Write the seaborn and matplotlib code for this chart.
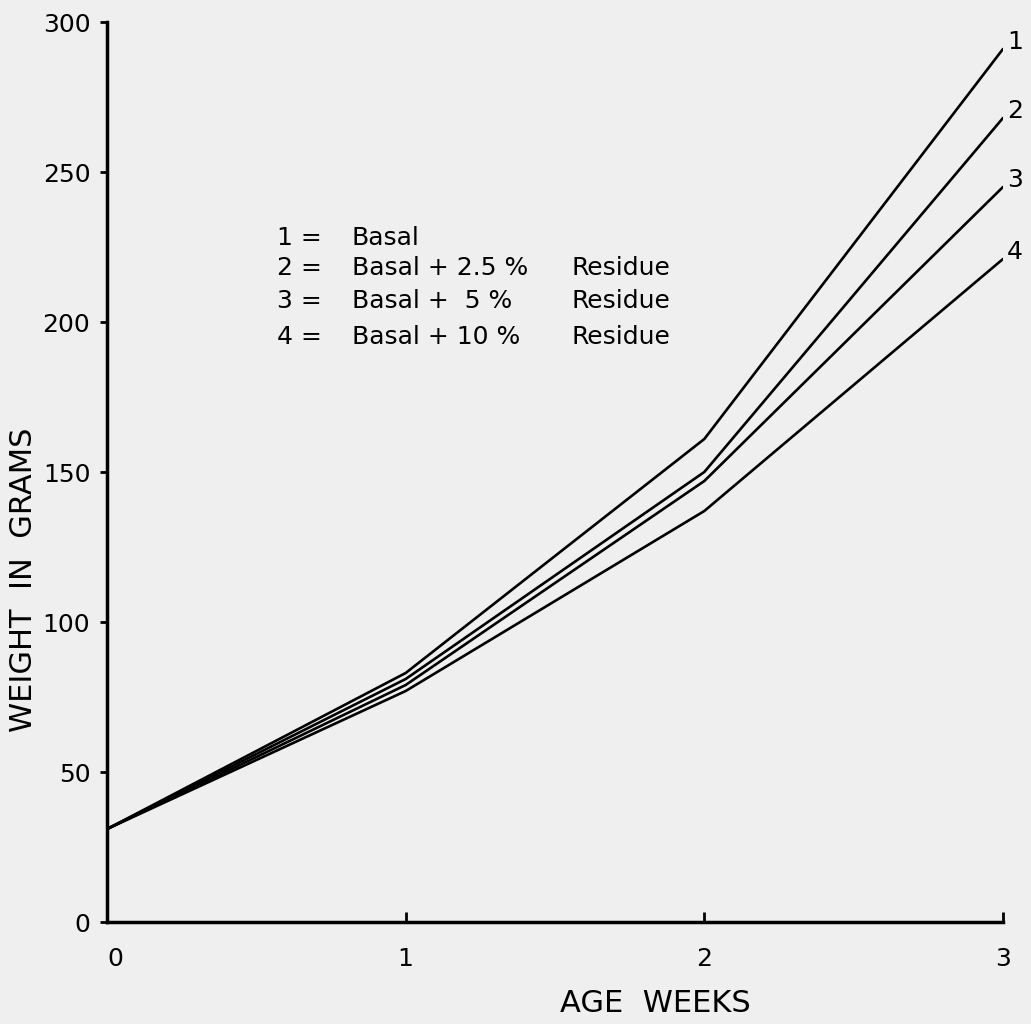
import pandas as pd
import matplotlib
matplotlib.use("Agg")
import matplotlib.pyplot as plt
import seaborn as sns

# values
weeks = [0, 1, 2, 3]
basal = [31, 83, 161, 291]
basal_25 = [31, 81, 150, 268]
basal_5 = [31, 79, 147, 245]
basal_10 = [31, 77, 137, 221]
line_ids = ["1", "2", "3", "4"]
key_numbers = ["1 =", "2 =", "3 =", "4 ="]
key_diets = ["Basal", "Basal + 2.5 %", "Basal +  5 %", "Basal + 10 %"]
key_suffix = ["", "Residue", "Residue", "Residue"]

series = [basal, basal_25, basal_5, basal_10]
df = pd.DataFrame({
    "week": weeks * 4,
    "weight": sum(series, []),
    "line": [lid for lid in line_ids for _ in weeks],
})

sns.set_style("ticks")
plt.rcParams["font.family"] = ["DejaVu Sans"]
plt.rcParams["text.color"] = "black"
plt.rcParams["xtick.color"] = "black"
plt.rcParams["ytick.color"] = "black"
plt.rcParams["axes.labelcolor"] = "black"
plt.rcParams["axes.edgecolor"] = "black"
bg = "#efefef"

fig = plt.figure(figsize=(10.31, 10.24), dpi=100, facecolor=bg)
ax = fig.add_axes([0.1038, 0.0996, 0.8690, 0.8789], facecolor=bg)

sns.lineplot(data=df, x="week", y="weight", units="line", estimator=None,
             color="black", linewidth=1.9, legend=False, ax=ax)

ax.set_xlim(0, 3)
ax.set_ylim(0, 300)
ax.set_xticks([0, 1, 2, 3])
ax.set_yticks([0, 50, 100, 150, 200, 250, 300])
ax.tick_params(axis="x", direction="in", length=7, width=2, labelsize=18, pad=18)
ax.tick_params(axis="y", direction="out", length=5, width=2, labelsize=18, pad=7)
ax.get_xticklabels()[0].set_horizontalalignment("left")
sns.despine(ax=ax)
for s in ("left", "bottom"):
    ax.spines[s].set_linewidth(2.5)

ax.set_xlabel("AGE  WEEKS", fontsize=22)
ax.set_ylabel("WEIGHT  IN  GRAMS", fontsize=22)
ax.xaxis.set_label_coords(0.612, -0.074)
ax.yaxis.set_label_coords(-0.077, 0.38)

# curve numbers at the right end
for lid, ys in zip(line_ids, series):
    ax.annotate(lid, (weeks[-1], ys[-1]), xytext=(3, 5), textcoords="offset points",
                fontsize=18, ha="left", va="center", annotation_clip=False)

# key
key_y = [228, 218, 207, 195]
for num, diet, suf, yy in zip(key_numbers, key_diets, key_suffix, key_y):
    ax.text(0.57, yy, num, fontsize=18, va="center")
    ax.text(0.82, yy, diet, fontsize=18, va="center")
    if suf:
        ax.text(1.555, yy, suf, fontsize=18, va="center")

fig.savefig("out.png", dpi=100, facecolor=bg)
